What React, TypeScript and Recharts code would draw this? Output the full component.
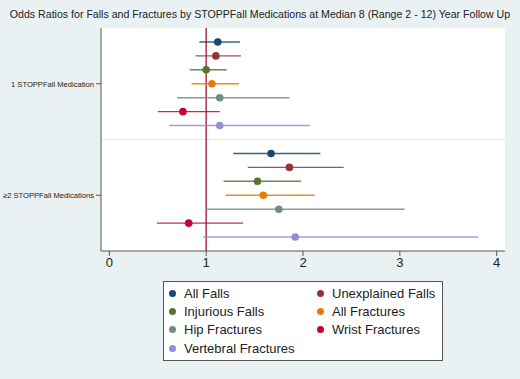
import React from "react"
import { ScatterChart, Scatter, XAxis, YAxis, ErrorBar, ReferenceLine, CartesianGrid } from "recharts"

const title = "Odds Ratios for Falls and Fractures by STOPPFall Medications at Median 8 (Range 2 - 12) Year Follow Up"

const outcomes = [
  "All Falls",
  "Unexplained Falls",
  "Injurious Falls",
  "All Fractures",
  "Hip Fractures",
  "Wrist Fractures",
  "Vertebral Fractures",
]
const colors = ["#1a476f", "#90353b", "#55752f", "#e37e00", "#6e8e84", "#c10534", "#938dd2"]

const groups = ["1 STOPPFall Medication", "≥2 STOPPFall Medications"]

// one STOPPFall medication
const oneOR = [1.12, 1.1, 1.0, 1.06, 1.14, 0.76, 1.14]
const oneLow = [0.93, 0.89, 0.83, 0.85, 0.7, 0.5, 0.62]
const oneHigh = [1.35, 1.36, 1.21, 1.34, 1.86, 1.14, 2.07]

// two or more
const twoOR = [1.67, 1.86, 1.53, 1.59, 1.75, 0.82, 1.92]
const twoLow = [1.28, 1.43, 1.18, 1.2, 1.0, 0.49, 0.97]
const twoHigh = [2.18, 2.42, 1.98, 2.12, 3.05, 1.38, 3.81]

const xTicks = [0, 1, 2, 3, 4]

const rowsPerGroup = 8
const groupTicks = groups.map((_, g) => g * rowsPerGroup + 3)

const series = outcomes.map((name, i) => {
  const ors = [oneOR[i], twoOR[i]]
  const lows = [oneLow[i], twoLow[i]]
  const highs = [oneHigh[i], twoHigh[i]]
  return {
    name,
    color: colors[i],
    data: ors.map((or, g) => ({
      or,
      row: g * rowsPerGroup + i,
      err: [or - lows[g], highs[g] - or],
    })),
  }
})

const font = "'Liberation Sans', Arial, sans-serif"

const GroupTick = (props: any) => {
  const { x, y, payload } = props
  return (
    <text x={x} y={y} dy={3} textAnchor="end" fontSize={7.6} fontFamily={font} fill="#222">
      {groups[groupTicks.indexOf(payload.value)]}
    </text>
  )
}

export default function App() {
  return (
    <div
      style={{
        position: "absolute",
        left: 0,
        top: 0,
        width: 520,
        height: 379,
        background: "#eaf1f3",
        fontFamily: font,
      }}
    >
      <div
        style={{
          position: "absolute",
          top: 8,
          left: 0,
          width: 520,
          textAlign: "center",
          fontSize: 10.6,
          color: "#222",
          whiteSpace: "nowrap",
        }}
      >
        {title}
      </div>
      <ScatterChart width={520} height={379} margin={{ top: 28, right: 15, bottom: 0, left: 0 }}>
        <CartesianGrid horizontal={false} vertical={false} fill="#ffffff" stroke="none" />
        <XAxis
          type="number"
          dataKey="or"
          domain={[-0.086, 4.086]}
          ticks={xTicks}
          allowDataOverflow
          height={128}
          stroke="#555"
          tick={{ fill: "#222", fontSize: 13, fontFamily: font }}
          tickSize={5}
        />
        <YAxis
          type="number"
          dataKey="row"
          domain={[-1, 15]}
          reversed
          ticks={groupTicks}
          width={101}
          stroke="#555"
          tick={<GroupTick />}
          tickSize={5}
          interval={0}
        />
        <ReferenceLine y={7} stroke="#e4eaed" strokeWidth={1} />
        <ReferenceLine x={1} stroke="#b0304e" strokeWidth={1.5} />
        {series.map((s) => (
          <Scatter
            key={s.name}
            name={s.name}
            data={s.data}
            fill={s.color}
            isAnimationActive={false}
            shape={(p: any) => <circle cx={p.cx} cy={p.cy} r={3.8} fill={s.color} />}
          >
            <ErrorBar dataKey="err" direction="x" width={0} stroke={s.color} strokeWidth={1.4} strokeOpacity={0.85} />
          </Scatter>
        ))}
      </ScatterChart>
      <div
        style={{
          position: "absolute",
          left: 163,
          top: 281,
          width: 278,
          height: 76,
          border: "1px solid #555",
          background: "#fff",
          boxSizing: "content-box",
          display: "grid",
          gridTemplateColumns: "148px 130px",
          gridAutoRows: "18.3px",
          paddingTop: 2,
        }}
      >
        {series.map((s) => (
          <div
            key={s.name}
            style={{ display: "flex", alignItems: "center", paddingLeft: 5, fontSize: 13, color: "#222" }}
          >
            <span
              style={{
                display: "inline-block",
                width: 7,
                height: 7,
                borderRadius: "50%",
                background: s.color,
                marginRight: 8,
              }}
            />
            {s.name}
          </div>
        ))}
      </div>
    </div>
  )
}
